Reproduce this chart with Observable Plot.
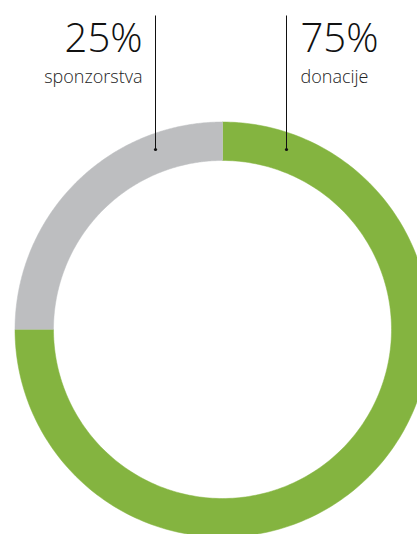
<!DOCTYPE html>
<html>
<head>
<meta charset="utf-8">
<script src="https://cdn.jsdelivr.net/npm/d3@7"></script>
<script src="https://cdn.jsdelivr.net/npm/@observablehq/plot@0.6"></script>
<style>
  html, body { margin: 0; padding: 0; background: #fff; overflow: hidden; }
  #chart svg { display: block; }
</style>
</head>
<body>
<div id="chart"></div>
<script>
// Data
const categories = ["donacije", "sponzorstva"];
const values = [75, 25];
const valueLabels = ["75%", "25%"];
const colors = ["#84b440", "#bdbec0"];

// Layout (pixel-like units, center of ring at origin, y up)
const W = 417, H = 534;
const cx = 222, cy = 329;
const rOuter = 207.5, rInner = 169;

const pie = d3.pie().sort(null).value(d => d.value);
const slices = pie(categories.map((c, i) => ({category: c, value: values[i], color: colors[i], label: valueLabels[i]})));

function ringPoints(s) {
  const n = 240, pts = [];
  for (let k = 0; k <= n; k++) {
    const a = s.startAngle + (s.endAngle - s.startAngle) * k / n;
    pts.push({x: rOuter * Math.sin(a), y: rOuter * Math.cos(a)});
  }
  for (let k = n; k >= 0; k--) {
    const a = s.startAngle + (s.endAngle - s.startAngle) * k / n;
    pts.push({x: rInner * Math.sin(a), y: rInner * Math.cos(a)});
  }
  return pts;
}

// leader lines & labels (positions relative to center)
const leaders = [
  {category: "donacije", x: 286 - cx, top: cy - 15, bottom: cy - 149, labelX: 300 - cx, anchor: "start"},
  {category: "sponzorstva", x: 155 - cx, top: cy - 15, bottom: cy - 149, labelX: 142 - cx, anchor: "end"}
];
const labelData = leaders.map(l => {
  const s = slices.find(d => d.data.category === l.category);
  return {...l, pct: s.data.label, name: s.data.category};
});

const font = "'Open Sans', 'Noto Sans', sans-serif";

const plot = Plot.plot({
  width: W, height: H,
  margin: 0,
  x: {domain: [-cx, W - cx], axis: null},
  y: {domain: [cy - H, cy], axis: null},
  style: {background: "#fff", fontFamily: font},
  marks: [
    ...slices.map(s => Plot.line(ringPoints(s), {x: "x", y: "y", fill: s.data.color, stroke: s.data.color, strokeWidth: 0.5, curve: "linear"})),
    Plot.link(labelData, {x1: "x", x2: "x", y1: "top", y2: "bottom", stroke: "#111", strokeWidth: 1}),
    Plot.dot(labelData, {x: "x", y: "bottom", r: 1.6, fill: "#111", stroke: null}),
    ...labelData.map(l => Plot.text([l], {x: "labelX", y: cy - 51, text: "pct", textAnchor: l.anchor, lineAnchor: "bottom", fontSize: 40, fontWeight: 300, fill: "#111", fontFamily: font})),
    ...labelData.map(l => Plot.text([l], {x: "labelX", y: cy - 82, text: "name", textAnchor: l.anchor, lineAnchor: "bottom", fontSize: 18, fontWeight: 300, fill: "#222", fontFamily: font})),
  ]
});
document.getElementById("chart").append(plot);
</script>
</body>
</html>
